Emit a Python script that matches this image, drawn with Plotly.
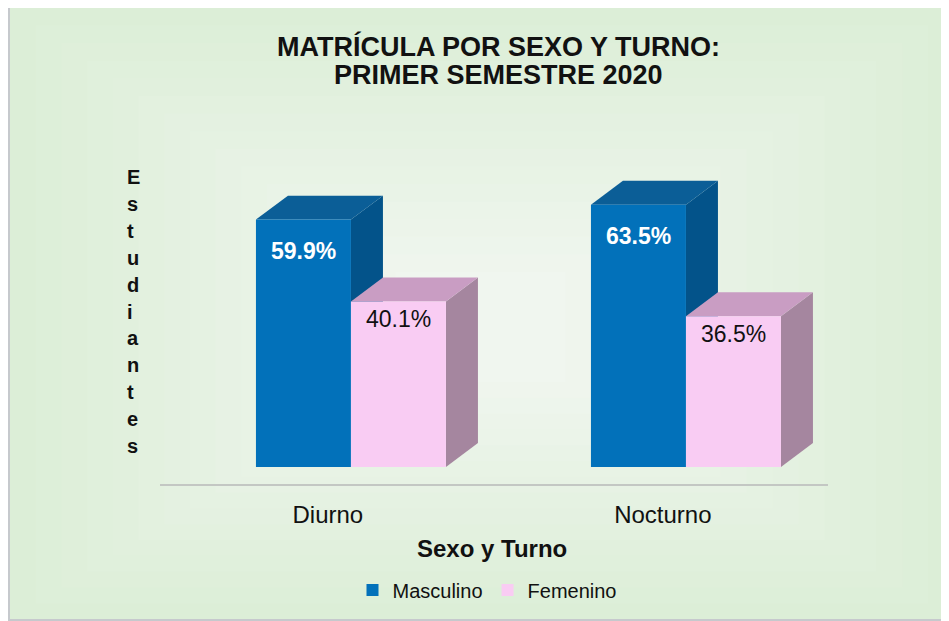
import plotly.graph_objects as go

# ---------------- data ----------------
categories = ["Diurno", "Nocturno"]
series_names = ["Masculino", "Femenino"]
masculino = [59.9, 63.5]
femenino = [40.1, 36.5]
label_masc = ["59.9%", "63.5%"]
label_fem = ["40.1%", "36.5%"]
title_lines = ["MATRÍCULA POR SEXO Y TURNO:", "PRIMER SEMESTRE 2020"]
x_title = "Sexo y Turno"
y_title = "Estudiantes"

# ---------------- style ----------------
OFF = 8                     # page body margin of the browser
VW, VH = 949, 621           # window size
W, H = VW - OFF, VH - OFF   # figure size
PLOT_L, PLOT_R, PLOT_T, PLOT_B = 160, 828, 54, 484   # plot area in window pixels
ML, MR, MT, MB = PLOT_L - OFF, VW - PLOT_R, PLOT_T - OFF, VH - PLOT_B
PW, PH = PLOT_R - PLOT_L, PLOT_B - PLOT_T
FONT = "Liberation Sans, Arial, sans-serif"

BAR_W = 0.2836          # bar width in category units
DEPTH_X = 0.0955        # 3D depth (x, category units)
DEPTH_Y = 5.8           # 3D depth (y, value units)
LABEL_SHIFT = -0.069    # perspective shift of category labels

faces = {
    "Masculino": dict(front="#0271BA", top="#0B5E97", side="#03538A", lab="white", bold=True, shift=-31),
    "Femenino": dict(front="#F9CCF3", top="#C99DC3", side="#A5869F", lab="#111111", bold=False, shift=-18),
}

def px2paper_x(px):
    return (px - PLOT_L) / PW

def px2paper_y(py):
    return (PLOT_B - py) / PH

fig = go.Figure()

def poly(xs, ys, color):
    fig.add_trace(go.Scatter(
        x=xs + [xs[0]], y=ys + [ys[0]], mode="lines", fill="toself",
        fillcolor=color, line=dict(width=0, color=color),
        hoverinfo="skip", showlegend=False))

positions = list(range(len(categories)))
annotations = []
for i, pos in enumerate(positions):
    for name, vals, labs, off in (("Masculino", masculino, label_masc, -BAR_W),
                                  ("Femenino", femenino, label_fem, 0.0)):
        st = faces[name]
        v = vals[i]
        x0 = pos + off
        x1 = x0 + BAR_W
        # side face
        poly([x1, x1 + DEPTH_X, x1 + DEPTH_X, x1], [0, DEPTH_Y, v + DEPTH_Y, v], st["side"])
        # top face
        poly([x0, x1, x1 + DEPTH_X, x0 + DEPTH_X], [v, v, v + DEPTH_Y, v + DEPTH_Y], st["top"])
        # front face
        poly([x0, x1, x1, x0], [0, 0, v, v], st["front"])
        txt = labs[i]
        if st["bold"]:
            txt = "<b>" + txt + "</b>"
        annotations.append(dict(
            x=(x0 + x1) / 2, y=v, xref="x", yref="y", text=txt, showarrow=False,
            yanchor="middle", yshift=st["shift"],
            font=dict(family=FONT, size=23, color=st["lab"])))

# legend entries
for name in series_names:
    fig.add_trace(go.Bar(x=[None], y=[None], name=name,
                         marker=dict(color=faces[name]["front"], line=dict(width=0))))

# title lines
annotations.append(dict(x=px2paper_x(498), y=px2paper_y(46), xref="paper", yref="paper",
                        text="<b>" + title_lines[0] + "</b>", showarrow=False,
                        font=dict(family=FONT, size=27, color="#111111"), yanchor="middle"))
annotations.append(dict(x=px2paper_x(498), y=px2paper_y(75), xref="paper", yref="paper",
                        text="<b>" + title_lines[1] + "</b>", showarrow=False,
                        font=dict(family=FONT, size=27, color="#111111"), yanchor="middle"))
# x axis title
annotations.append(dict(x=px2paper_x(492), y=px2paper_y(548), xref="paper", yref="paper",
                        text="<b>" + x_title + "</b>", showarrow=False,
                        font=dict(family=FONT, size=24, color="#111111"), yanchor="middle"))
# stacked y axis title
for k, ch in enumerate(y_title):
    annotations.append(dict(x=px2paper_x(125), y=px2paper_y(177 + k * 26.9), xref="paper", yref="paper",
                            text="<b>" + ch + "</b>", showarrow=False,
                            font=dict(family=FONT, size=20, color="#111111"), yanchor="middle"))

# background: frame + rectangular gradient
shapes = []
shapes.append(dict(type="rect", xref="paper", yref="paper",
                   x0=px2paper_x(7), x1=px2paper_x(VW + 5), y0=px2paper_y(VH + 5), y1=px2paper_y(8),
                   fillcolor="#c6c9cd", line=dict(width=0), layer="below"))
outer = (10, 8, VW + 5, 619)
cx, cy = 480, 330
N = 16
c_edge = (220, 238, 215)
c_center = (240, 246, 239)
for k in range(N):
    t = k / (N - 1)
    f = 1 - 0.82 * t
    x0 = cx - (cx - outer[0]) * f
    x1 = cx + (outer[2] - cx) * f
    y0 = cy - (cy - outer[1]) * f
    y1 = cy + (outer[3] - cy) * f
    col = tuple(round(c_edge[j] + (c_center[j] - c_edge[j]) * t) for j in range(3))
    shapes.append(dict(type="rect", xref="paper", yref="paper",
                       x0=px2paper_x(x0), x1=px2paper_x(x1),
                       y0=px2paper_y(y1), y1=px2paper_y(y0),
                       fillcolor="rgb(%d,%d,%d)" % col, line=dict(width=0), layer="below"))

fig.update_layout(
    width=W, height=H,
    margin=dict(l=ML, r=MR, t=MT, b=MB),
    paper_bgcolor="#fafafa", plot_bgcolor="rgba(0,0,0,0)",
    showlegend=True,
    legend=dict(orientation="h", x=px2paper_x(487), y=px2paper_y(590),
                xanchor="center", yanchor="middle", bgcolor="rgba(0,0,0,0)",
                font=dict(family=FONT, size=20, color="#111111"), traceorder="normal"),
    xaxis=dict(range=[-0.570, 1.424], showgrid=False, zeroline=False,
               showline=True, linecolor="#c3c7c3", linewidth=1.5,
               tickmode="array", tickvals=[p + LABEL_SHIFT for p in positions], ticktext=categories,
               ticks="outside", ticklen=8, tickcolor="rgba(0,0,0,0)",
               tickfont=dict(family=FONT, size=24, color="#111111"), fixedrange=True),
    yaxis=dict(range=[-4.12, 100], visible=False, fixedrange=True),
    annotations=annotations,
    shapes=shapes,
)

fig.write_html("out.html")
